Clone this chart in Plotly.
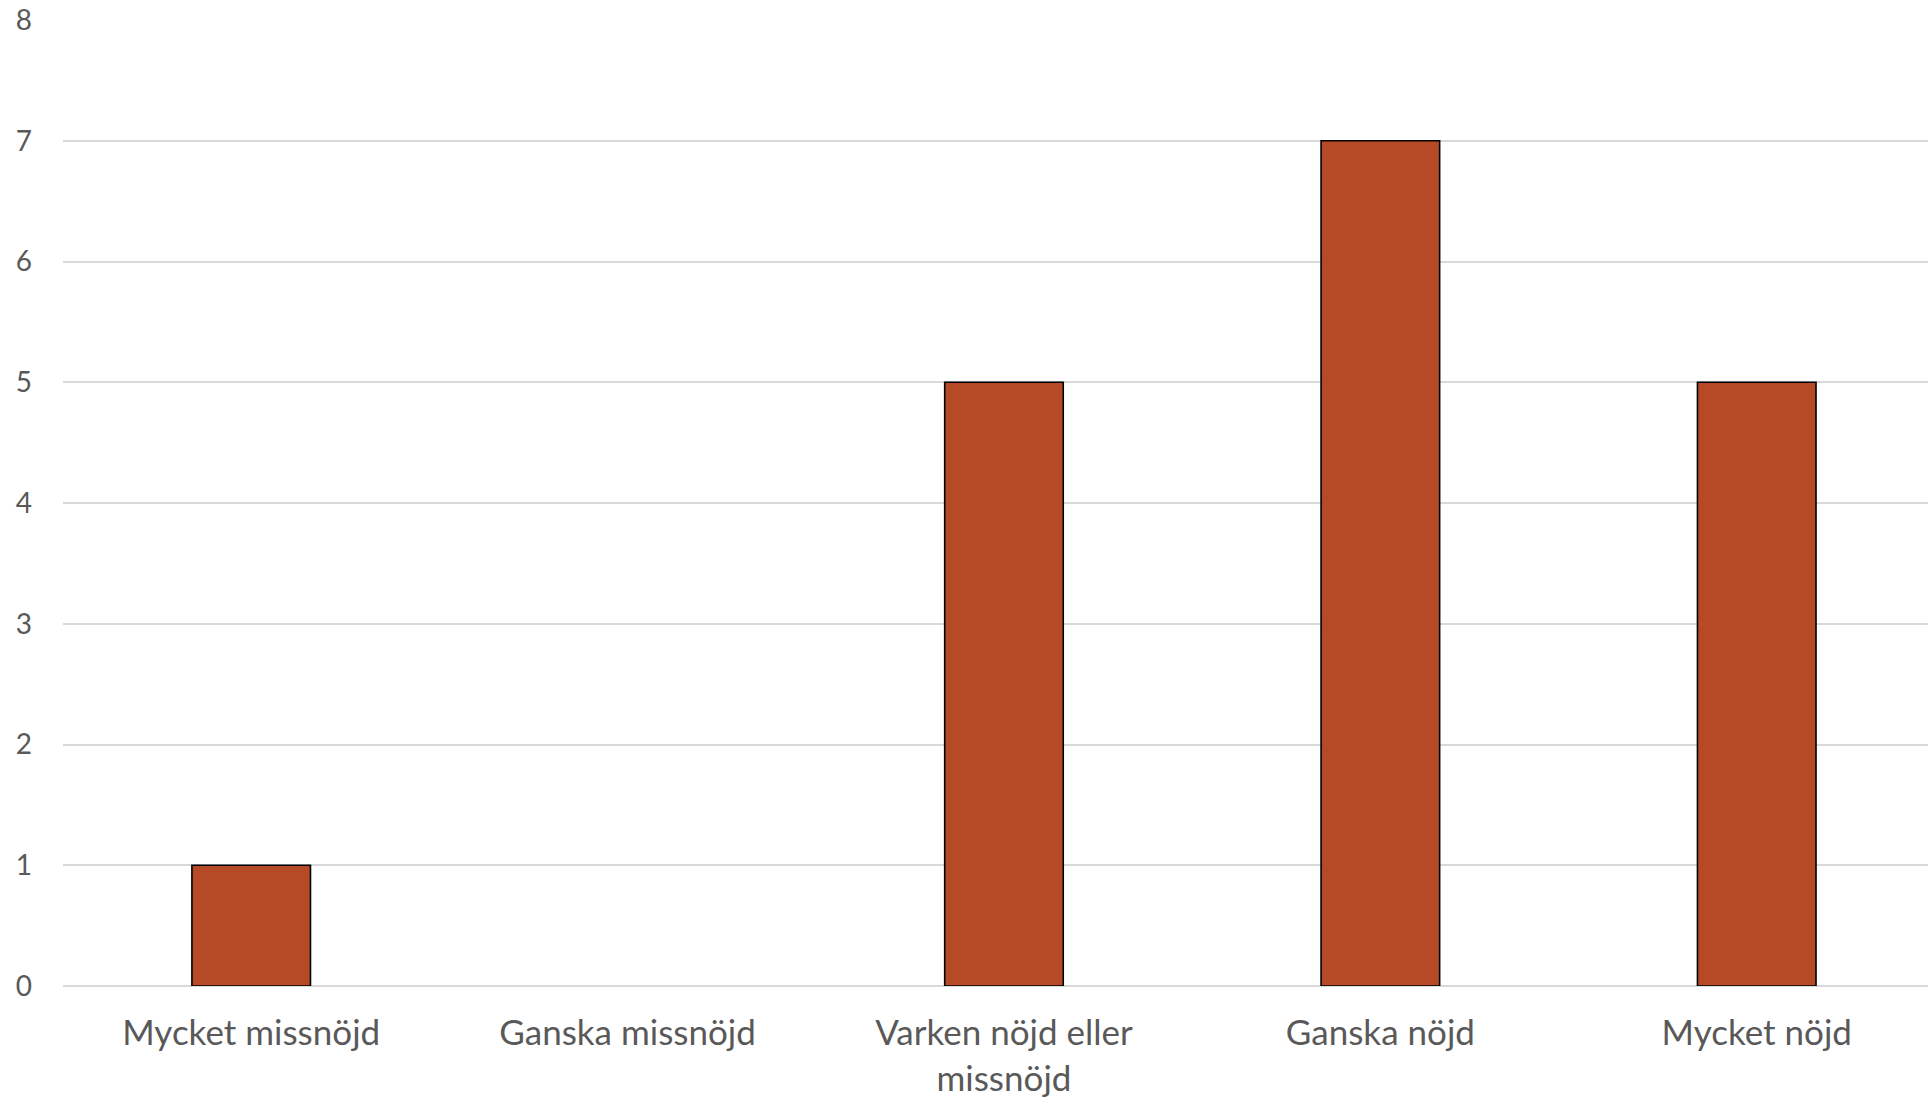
import plotly.graph_objects as go

# Survey responses: satisfaction level and number of respondents
categories = [
    "Mycket missnöjd",
    "Ganska missnöjd",
    "Varken nöjd eller<br>missnöjd",
    "Ganska nöjd",
    "Mycket nöjd",
]
counts = [1, 0, 5, 7, 5]
y_ticks = [0, 1, 2, 3, 4, 5, 6, 7, 8]

BAR_COLOR = "#B74A26"
GRID_COLOR = "#D9D9D9"
TEXT_COLOR = "#595959"
FONT = "Lato, 'Open Sans', sans-serif"

# Empty categories get no outline so nothing is drawn on the baseline
outline_widths = [1.6 if v > 0 else 0 for v in counts]

fig = go.Figure(
    go.Bar(
        x=list(range(len(categories))),
        y=counts,
        width=0.315,
        marker=dict(color=BAR_COLOR, line=dict(color="#000000", width=outline_widths)),
        hoverinfo="skip",
    )
)

fig.update_layout(
    width=1928,
    height=1101,
    margin=dict(l=63, r=0, t=20, b=115),
    paper_bgcolor="white",
    plot_bgcolor="white",
    showlegend=False,
    font=dict(family=FONT, color=TEXT_COLOR),
)

fig.update_xaxes(
    range=[-0.5, 4.455],
    tickmode="array",
    tickvals=list(range(len(categories))),
    ticktext=categories,
    tickfont=dict(size=35, color=TEXT_COLOR, family=FONT),
    showgrid=False,
    showline=False,
    zeroline=False,
    ticks="",
    ticklabelstandoff=23,
)

fig.update_yaxes(
    range=[0, 8],
    tickmode="array",
    tickvals=y_ticks,
    ticktext=[str(v) for v in y_ticks],
    tickfont=dict(size=28, color=TEXT_COLOR, family=FONT),
    showgrid=True,
    gridcolor=GRID_COLOR,
    gridwidth=2,
    zeroline=True,
    zerolinecolor=GRID_COLOR,
    zerolinewidth=2,
    showline=False,
    ticks="",
    ticklabelstandoff=30,
)

fig.write_html("out.html")
